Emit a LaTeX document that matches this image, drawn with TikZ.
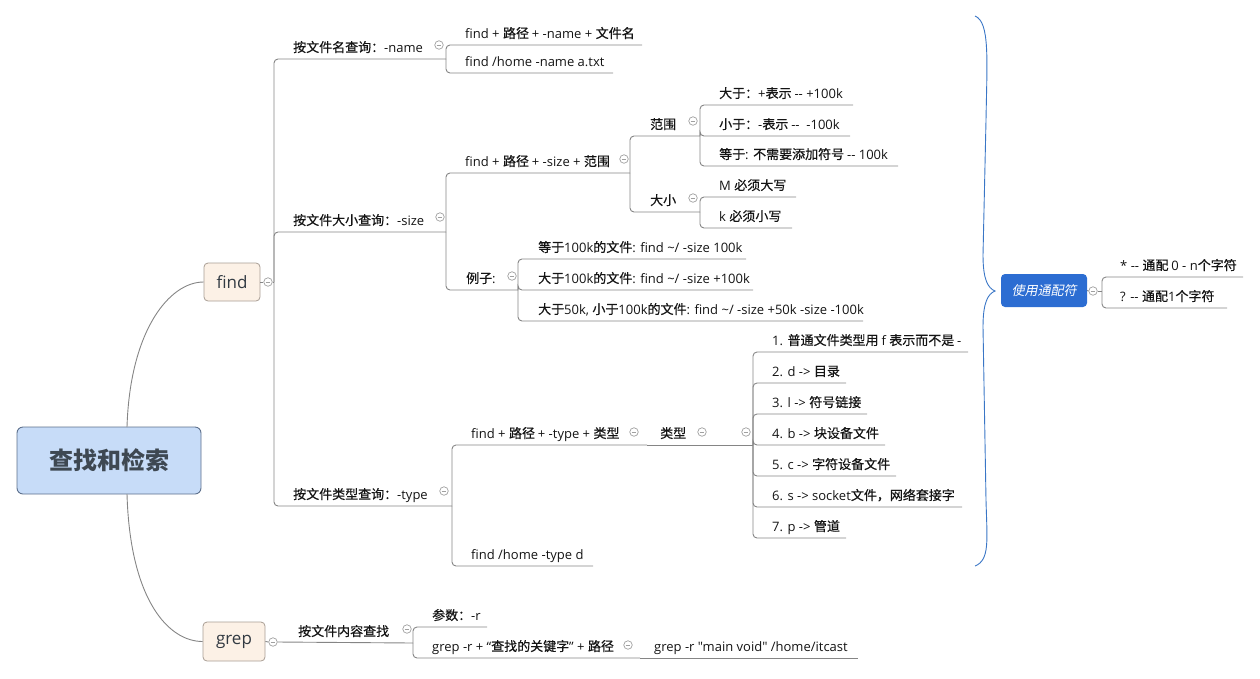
\documentclass[tikz,border=0pt]{standalone}
\usepackage{fontspec}
\setmainfont{Open Sans}
\newfontfamily\latf{Open Sans}
\newfontfamily\cjkf{Noto Sans CJK SC}[FakeBold=0.5]
\newfontfamily\cjkroot{Noto Sans CJK SC}
\newfontfamily\cjkit{Noto Sans CJK SC}[FakeSlant=0.2]
\XeTeXinterchartokenstate=1
\newXeTeXintercharclass\cjkclass
\newcount\cjkcnt
\def\cjkrange#1#2{\cjkcnt=#1\relax\loop\XeTeXcharclass\cjkcnt=\cjkclass\relax\ifnum\cjkcnt<#2\relax\advance\cjkcnt by 1\relax\repeat}
\cjkrange{"4E00}{"9FFF}
\cjkrange{"3000}{"303F}
\cjkrange{"FF00}{"FFEF}
\XeTeXinterchartoks 0 \cjkclass = {\cjkf}
\XeTeXinterchartoks 4095 \cjkclass = {\cjkf}
\XeTeXinterchartoks \cjkclass 0 = {\latf}
\XeTeXinterchartoks 4095 0 = {\latf}
\definecolor{linec}{HTML}{858585}
\definecolor{colc}{HTML}{A0A0A0}
\definecolor{txtc}{HTML}{141414}
\definecolor{peach}{HTML}{FCF1E6}
\definecolor{peachb}{HTML}{A89E94}
\definecolor{rootf}{HTML}{C7DCF8}
\definecolor{rootb}{HTML}{5D708C}
\definecolor{roott}{HTML}{3E4852}
\definecolor{wildf}{HTML}{2C6DD2}
\definecolor{bracec}{HTML}{3A76C6}
\newcommand\topic[6]{%
  \coordinate (#1-l) at (#2,#4);
  \coordinate (#1-r) at (#3,#4);
  \node[txt, anchor=base west] (#1) at (#5,#4-7) {#6};}
\tikzset{
  conn/.style={draw=linec, line width=0.9pt, rounded corners=4pt},
  curvec/.style={draw=linec, line width=0.9pt},
  txt/.style={inner sep=0pt, text=txtc, font=\fontsize{13}{15}\selectfont},
  colbtn/.style={circle, draw=colc, fill=white, line width=0.7pt, minimum size=8.5pt, inner sep=0pt,
    path picture={\draw[colc, line width=0.7pt] ([xshift=-2.3pt]path picture bounding box.center) -- ([xshift=2.3pt]path picture bounding box.center);}},
  mainbox/.style={draw=peachb, fill=peach, rounded corners=4pt, line width=0.8pt, inner sep=0pt,
    text=roott!80!black, font=\fontsize{17}{19}\selectfont},
}
\begin{document}
\begin{tikzpicture}[x=1pt,y=-1pt]
\useasboundingbox (0,0) rectangle (1260,678);

% ---------- main nodes ----------
\node[draw=rootb, fill=rootf, rounded corners=6pt, line width=0.9pt, minimum width=184pt, minimum height=67pt, inner sep=0pt]
  (root) at (109,460.5) {\XeTeXinterchartokenstate=0 \cjkroot\bfseries\fontsize{24}{26}\selectfont\color{roott}查找和检索};
\node[mainbox, minimum width=56pt, minimum height=38pt] (find) at (232,282) {find};
\node[mainbox, minimum width=62pt, minimum height=39pt] (grep) at (234,641.5) {grep};
\node[fill=wildf, rounded corners=4pt, minimum width=86pt, minimum height=33pt, inner sep=0pt, text=white]
  (wild) at (1044,290.5) {\XeTeXinterchartokenstate=0 \cjkit\fontsize{13}{15}\selectfont 使用通配符};

\coordinate (rt) at (127,427);
\coordinate (rb) at (127,494);
\draw[curvec] (rt) .. controls +(3,-97) and +(-34,0) .. (find.west);
\draw[curvec] (rb) .. controls +(3,106) and +(-34,0) .. (grep.west);

% ---------- find branch ----------
\topic{n1}{274}{446}{59}{293}{按文件名查询：-name}
\topic{n2}{274}{446}{232}{293}{按文件大小查询：-size}
\topic{n3}{274}{452}{506}{293}{按文件类型查询：-type}

\topic{n11}{446}{642}{45}{465}{find + 路径 + -name + 文件名}
\topic{n12}{446}{613}{73}{465}{find /home -name a.txt}

\topic{n21}{446}{630}{173}{465}{find + 路径 + -size + 范围}
\topic{n22}{446}{518}{290}{466}{例子:}
\topic{n211}{630}{700}{136}{650}{范围}
\topic{n212}{630}{700}{212}{650}{大小}
\topic{s1}{700}{853}{105}{719}{大于：+表示 -{}- +100k}
\topic{s2}{700}{850}{136}{719}{小于：-表示 -{}-\ \ -100k}
\topic{s3}{700}{898}{166}{719}{等于: 不需要添加符号 -{}- 100k}
\topic{z1}{700}{796}{197}{719}{M 必须大写}
\topic{z2}{700}{792}{228}{719}{k 必须小写}
\topic{e1}{518}{746}{259}{538}{等于100k的文件: find \textasciitilde/ -size 100k}
\topic{e2}{518}{753}{290}{538}{大于100k的文件: find \textasciitilde/ -size +100k}
\topic{e3}{518}{863}{321}{538}{大于50k, 小于100k的文件: find \textasciitilde/ -size +50k -size -100k}

\topic{n31}{452}{647}{445}{471}{find + 路径 + -type + 类型}
\topic{n32}{452}{593}{566}{471}{find /home -type d}
\topic{n311}{647}{753}{445}{660}{类型}
\topic{t1}{753}{968}{352}{772}{1. 普通文件类型用 f 表示而不是 -}
\topic{t2}{753}{846}{383}{772}{2. d -> 目录}
\topic{t3}{753}{867}{414}{772}{3. l -> 符号链接}
\topic{t4}{753}{885}{445}{772}{4. b -> 块设备文件}
\topic{t5}{753}{896}{476}{772}{5. c -> 字符设备文件}
\topic{t6}{753}{962}{507}{772}{6. s -> socket文件，网络套接字}
\topic{t7}{753}{846}{538}{772}{7. p -> 管道}

% ---------- grep branch ----------
\topic{g1}{277}{413}{643}{298}{按文件内容查找}
\topic{g11}{413}{487}{627}{432}{参数：-r}
\topic{g12}{413}{640}{658}{432}{grep -r + “查找的关键字” + 路径}
\topic{g121}{640}{858}{658}{654}{grep -r "main void" /home/itcast}

% ---------- wildcard ----------
\topic{w1}{1102}{1243}{277}{1120}{* -{}- 通配 0 - n个字符}
\topic{w2}{1102}{1227}{308}{1120}{? -{}- 通配1个字符}

% ---------- collapse buttons ----------
\node[colbtn] (cfind) at (268,282) {};
\node[colbtn] (cgrep) at (273,642) {};
\node[colbtn] (cwild) at (1093,291) {};
\node[colbtn] (cn1) at (439,45) {};
\node[colbtn] (cn2) at (440,217) {};
\node[colbtn] (cn3) at (444,491) {};
\node[colbtn] (cn21) at (624,159) {};
\node[colbtn] (cn22) at (512,276) {};
\node[colbtn] (cn211) at (693,121) {};
\node[colbtn] (cn212) at (693,198) {};
\node[colbtn] (cn31) at (634,432) {};
\node[colbtn] (cn311a) at (702,432) {};
\node[colbtn] (cn311b) at (746,432) {};
\node[colbtn] (cg1) at (407,629) {};
\node[colbtn] (cg12) at (628,645) {};

% ---------- connectors ----------
\coordinate (fj) at (274,282);
\draw[curvec] (find.east) -- (cfind.west);
\draw[curvec] (cfind.east) -- (fj);
\draw[conn] (fj) |- (n1-r);
\draw[conn] (fj) |- (n2-r);
\draw[conn] (fj) |- (n3-r);

\draw[conn] (n1-r) |- (n11-r);
\draw[conn] (n1-r) |- (n12-r);
\draw[conn] (n2-r) |- (n21-r);
\draw[conn] (n2-r) |- (n22-r);
\draw[conn] (n21-r) |- (n211-r);
\draw[conn] (n21-r) |- (n212-r);
\draw[conn] (n211-r) |- (s1-r);
\draw[conn] (n211-r) |- (s2-r);
\draw[conn] (n211-r) |- (s3-r);
\draw[conn] (n212-r) |- (z1-r);
\draw[conn] (n212-r) |- (z2-r);
\draw[conn] (n22-r) |- (e1-r);
\draw[conn] (n22-r) |- (e2-r);
\draw[conn] (n22-r) |- (e3-r);
\draw[conn] (n3-r) |- (n31-r);
\draw[conn] (n3-r) |- (n32-r);
\draw[conn] (n31-r) -- (n311-r);
\foreach \t in {t1,t2,t3,t4,t5,t6,t7}{\draw[conn] (n311-r) |- (\t-r);}

\draw[curvec] (grep.east) -- (cgrep.west);
\draw[curvec] (cgrep.east) -- (g1-r);
\draw[conn] (g1-r) |- (g11-r);
\draw[conn] (g1-r) |- (g12-r);
\draw[conn] (g12-r) -- (g121-r);

\coordinate (wj) at (1102,291);
\draw[curvec] (wild.east) -- (cwild.west);
\draw[curvec] (cwild.east) -- (wj);
\draw[conn] (wj) |- (w1-r);
\draw[conn] (wj) |- (w2-r);

% ---------- brace ----------
\coordinate (bt) at (975,16);
\coordinate (btip) at (995,291);
\coordinate (bb) at (975,566);
\draw[bracec, line width=0.9pt] (bt) .. controls (990,22) and (987,60) .. (986,120) -- (983,255)
  .. controls (983,280) and (988,288) .. (btip)
  .. controls (988,294) and (983,302) .. (983,327) -- (986,500)
  .. controls (987,540) and (990,560) .. (bb);
\end{tikzpicture}
\end{document}
